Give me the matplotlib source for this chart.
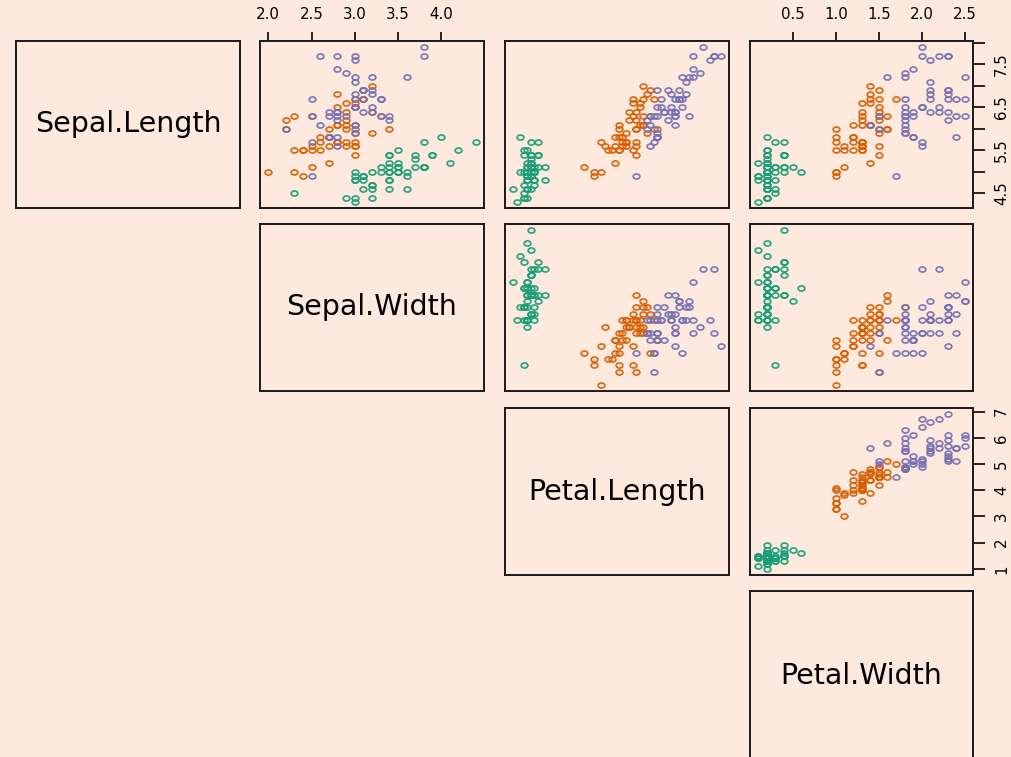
import matplotlib
matplotlib.use("Agg")
import matplotlib.pyplot as plt
from matplotlib.path import Path
from matplotlib.transforms import Affine2D
from matplotlib.markers import MarkerStyle

# ---- data (iris) ----
sepal_length = [5.1,4.9,4.7,4.6,5.0,5.4,4.6,5.0,4.4,4.9,5.4,4.8,4.8,4.3,5.8,5.7,5.4,5.1,5.7,5.1,
                5.4,5.1,4.6,5.1,4.8,5.0,5.0,5.2,5.2,4.7,4.8,5.4,5.2,5.5,4.9,5.0,5.5,4.9,4.4,5.1,
                5.0,4.5,4.4,5.0,5.1,4.8,5.1,4.6,5.3,5.0,
                7.0,6.4,6.9,5.5,6.5,5.7,6.3,4.9,6.6,5.2,5.0,5.9,6.0,6.1,5.6,6.7,5.6,5.8,6.2,5.6,
                5.9,6.1,6.3,6.1,6.4,6.6,6.8,6.7,6.0,5.7,5.5,5.5,5.8,6.0,5.4,6.0,6.7,6.3,5.6,5.5,
                5.5,6.1,5.8,5.0,5.6,5.7,5.7,6.2,5.1,5.7,
                6.3,5.8,7.1,6.3,6.5,7.6,4.9,7.3,6.7,7.2,6.5,6.4,6.8,5.7,5.8,6.4,6.5,7.7,7.7,6.0,
                6.9,5.6,7.7,6.3,6.7,7.2,6.2,6.1,6.4,7.2,7.4,7.9,6.4,6.3,6.1,7.7,6.3,6.4,6.0,6.9,
                6.7,6.9,5.8,6.8,6.7,6.7,6.3,6.5,6.2,5.9]
sepal_width = [3.5,3.0,3.2,3.1,3.6,3.9,3.4,3.4,2.9,3.1,3.7,3.4,3.0,3.0,4.0,4.4,3.9,3.5,3.8,3.8,
               3.4,3.7,3.6,3.3,3.4,3.0,3.4,3.5,3.4,3.2,3.1,3.4,4.1,4.2,3.1,3.2,3.5,3.6,3.0,3.4,
               3.5,2.3,3.2,3.5,3.8,3.0,3.8,3.2,3.7,3.3,
               3.2,3.2,3.1,2.3,2.8,2.8,3.3,2.4,2.9,2.7,2.0,3.0,2.2,2.9,2.9,3.1,3.0,2.7,2.2,2.5,
               3.2,2.8,2.5,2.8,2.9,3.0,2.8,3.0,2.9,2.6,2.4,2.4,2.7,2.7,3.0,3.4,3.1,2.3,3.0,2.5,
               2.6,3.0,2.6,2.3,2.7,3.0,2.9,2.9,2.5,2.8,
               3.3,2.7,3.0,2.9,3.0,3.0,2.5,2.9,2.5,3.6,3.2,2.7,3.0,2.5,2.8,3.2,3.0,3.8,2.6,2.2,
               3.2,2.8,2.8,2.7,3.3,3.2,2.8,3.0,2.8,3.0,2.8,3.8,2.8,2.8,2.6,3.0,3.4,3.1,3.0,3.1,
               3.1,3.1,2.7,3.2,3.3,3.0,2.5,3.0,3.4,3.0]
petal_length = [1.4,1.4,1.3,1.5,1.4,1.7,1.4,1.5,1.4,1.5,1.5,1.6,1.4,1.1,1.2,1.5,1.3,1.4,1.7,1.5,
                1.7,1.5,1.0,1.7,1.9,1.6,1.6,1.5,1.4,1.6,1.6,1.5,1.5,1.4,1.5,1.2,1.3,1.4,1.3,1.5,
                1.3,1.3,1.3,1.6,1.9,1.4,1.6,1.4,1.5,1.4,
                4.7,4.5,4.9,4.0,4.6,4.5,4.7,3.3,4.6,3.9,3.5,4.2,4.0,4.7,3.6,4.4,4.5,4.1,4.5,3.9,
                4.8,4.0,4.9,4.7,4.3,4.4,4.8,5.0,4.5,3.5,3.8,3.7,3.9,5.1,4.5,4.5,4.7,4.4,4.1,4.0,
                4.4,4.6,4.0,3.3,4.2,4.2,4.2,4.3,3.0,4.1,
                6.0,5.1,5.9,5.6,5.8,6.6,4.5,6.3,5.8,6.1,5.1,5.3,5.5,5.0,5.1,5.3,5.5,6.7,6.9,5.0,
                5.7,4.9,6.7,4.9,5.7,6.0,4.8,4.9,5.6,5.8,6.1,6.4,5.6,5.1,5.6,6.1,5.6,5.5,4.8,5.4,
                5.6,5.1,5.1,5.9,5.7,5.2,5.0,5.2,5.4,5.1]
petal_width = [0.2,0.2,0.2,0.2,0.2,0.4,0.3,0.2,0.2,0.1,0.2,0.2,0.1,0.1,0.2,0.4,0.4,0.3,0.3,0.3,
               0.2,0.4,0.2,0.5,0.2,0.2,0.4,0.2,0.2,0.2,0.2,0.4,0.1,0.2,0.2,0.2,0.2,0.1,0.2,0.2,
               0.3,0.3,0.2,0.6,0.4,0.3,0.2,0.2,0.2,0.2,
               1.4,1.5,1.5,1.3,1.5,1.3,1.6,1.0,1.3,1.4,1.0,1.5,1.0,1.4,1.3,1.4,1.5,1.0,1.5,1.1,
               1.8,1.3,1.5,1.2,1.3,1.4,1.4,1.7,1.5,1.0,1.1,1.0,1.2,1.6,1.5,1.6,1.5,1.3,1.3,1.3,
               1.2,1.4,1.2,1.0,1.3,1.2,1.3,1.3,1.1,1.3,
               2.5,1.9,2.1,1.8,2.2,2.1,1.7,1.8,1.8,2.5,2.0,1.9,2.1,2.0,2.4,2.3,1.8,2.2,2.3,1.5,
               2.3,2.0,2.0,1.8,2.1,1.8,1.8,1.8,2.1,1.6,1.9,2.0,2.2,1.5,1.4,2.3,2.4,1.8,1.8,2.1,
               2.4,2.3,1.9,2.3,2.5,2.3,1.9,2.0,2.3,1.8]
species = ["setosa"] * 50 + ["versicolor"] * 50 + ["virginica"] * 50
species_names = ["setosa", "versicolor", "virginica"]
species_colors = ["#1B9E77", "#D95F02", "#7570B3"]
var_names = ["Sepal.Length", "Sepal.Width", "Petal.Length", "Petal.Width"]
variables = [sepal_length, sepal_width, petal_length, petal_width]

top_ticks = {1: [2.0, 2.5, 3.0, 3.5, 4.0], 3: [0.5, 1.0, 1.5, 2.0, 2.5]}
right_ticks = {0: [4.5, 5.0, 5.5, 6.0, 6.5, 7.0, 7.5, 8.0], 2: [1, 2, 3, 4, 5, 6, 7]}
right_labels = {0: ["4.5", "", "5.5", "", "6.5", "", "7.5", ""],
                2: ["1", "2", "3", "4", "5", "6", "7"]}
top_labels = {1: ["2.0", "2.5", "3.0", "3.5", "4.0"], 3: ["0.5", "1.0", "1.5", "2.0", "2.5"]}

# ---- style ----
BG = "#FDE9DD"
W, H = 1012, 757
col_px = [(16, 240), (260, 484), (505, 729), (750, 973)]
row_px = [(41, 208), (224, 391), (408, 575), (591, 760)]

plt.rcParams['font.family'] = ['DejaVu Sans']
fig = plt.figure(figsize=(W / 100, H / 100), dpi=100, facecolor=BG)

ell = Path.unit_circle().transformed(Affine2D().scale(1.33, 1.0))
marker = MarkerStyle(ell)


def rng(v):
    lo, hi = min(v), max(v)
    pad = (hi - lo) * 0.04
    return lo - pad, hi + pad


def make_ax(i, j):
    x0, x1 = col_px[j]
    y0, y1 = row_px[i]
    ax = fig.add_axes([x0 / W, 1 - y1 / H, (x1 - x0) / W, (y1 - y0) / H])
    ax.set_facecolor(BG)
    for s in ax.spines.values():
        s.set_linewidth(1.4)
        s.set_color("#1a1a1a")
    ax.set_xticks([])
    ax.set_yticks([])
    return ax


for i in range(4):
    for j in range(i, 4):
        ax = make_ax(i, j)
        ax.set_xlim(*rng(variables[j]))
        ax.set_ylim(*rng(variables[i]))
        if i == j:
            ax.text(0.5, 0.5, var_names[i], transform=ax.transAxes,
                    ha="center", va="center", fontsize=20.5, color="black")
            continue
        xs = variables[j]
        ys = variables[i]
        for sp, col in zip(species_names, species_colors):
            px = [x for x, s in zip(xs, species) if s == sp]
            py = [y for y, s in zip(ys, species) if s == sp]
            ax.plot(px, py, linestyle="none", marker=marker, markersize=4.8,
                    markerfacecolor="none", markeredgecolor=col, markeredgewidth=1.3,
                    alpha=0.9, clip_on=False)
        if i == 0 and j in top_ticks:
            ax.xaxis.set_ticks_position("top")
            ax.set_xticks(top_ticks[j])
            ax.set_xticklabels(top_labels[j])
            ax.tick_params(axis="x", top=True, bottom=False, labeltop=True, labelbottom=False,
                           length=6.5, width=1.2, pad=7.5, labelsize=10.8)
        if j == 3 and i in right_ticks:
            ax.yaxis.set_ticks_position("right")
            ax.set_yticks(right_ticks[i])
            ax.set_yticklabels(right_labels[i])
            ax.tick_params(axis="y", right=True, left=False, labelright=True, labelleft=False,
                           length=8.6, width=1.2, pad=6.5, labelsize=10.8, labelrotation=90)
            for lab in ax.get_yticklabels():
                lab.set_va("center")
        ax.set_xlim(*rng(variables[j]))
        ax.set_ylim(*rng(variables[i]))

fig.savefig("out.png", dpi=100, facecolor=BG)
